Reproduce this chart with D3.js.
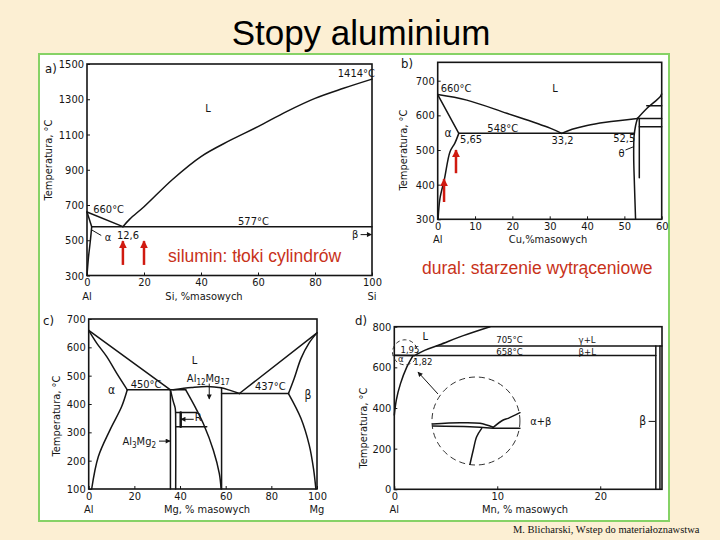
<!DOCTYPE html>
<html>
<head>
<meta charset="utf-8">
<script src="https://cdn.jsdelivr.net/npm/d3@7"></script>
<style>
html, body { margin: 0; padding: 0; background: #fcefd3; }
svg { display: block; }
</style>
</head>
<body>
<script>
// ---------- a) Al-Si ----------
const siTicksX = [0, 20, 40, 60, 80, 100];
const siTicksY = [300, 500, 700, 900, 1100, 1300, 1500];
const siLiqAl = [[0, 660], [12.6, 577]];
const siLiqSi = [[12.6, 577], [15, 620], [20, 690], [30, 845], [40, 975], [50, 1065], [60, 1145], [70, 1230], [80, 1305], [90, 1362], [100, 1414]];
const siEutectic = [[1.65, 577], [100, 577]];
const siSolidus = [[0, 660], [1.65, 577]];
const siSolvus = [[1.65, 577], [1.2, 500], [0.5, 400], [0, 300]];
const siArrows = [[12.6, 360, 495], [20, 360, 495]];

// ---------- b) Al-Cu ----------
const cuTicksX = [0, 10, 20, 30, 40, 50, 60];
const cuTicksY = [300, 400, 500, 600, 700];
const cuLiqAl = [[0, 660], [7.8, 644], [18.5, 606], [30.1, 563], [33.2, 548]];
const cuLiqTheta = [[33.2, 548], [36, 560], [40, 571], [45, 580], [53.5, 591]];
const cuLiqRight = [[53.5, 591], [56, 620], [58, 638], [59.6, 654], [60, 662]];
const cuEutectic = [[5.65, 548], [52.5, 548]];
const cuSolidus = [[0, 660], [5.65, 548]];
const cuSolvus = [[5.65, 548], [4.6, 520], [3.3, 495], [1.8, 416], [0.6, 360], [0.1, 300]];
const cuThetaLeft = [[53.5, 591], [53, 570], [52.6, 540], [52.5, 480], [52.7, 400], [53, 300]];
const cuThetaRight = [[54, 591], [54, 420]];
const cuRightLines = [[[53.5, 591], [60, 591]], [[56, 628], [60, 628]], [[54, 567], [60, 567]]];
const cuArrows = [[4.9, 433, 500], [1.7, 350, 416]];

// ---------- c) Al-Mg ----------
const mgTicksX = [0, 20, 40, 60, 80, 100];
const mgTicksY = [100, 200, 300, 400, 500, 600, 700];
const mgLiqLeft = [[0, 660], [35.8, 450]];
const mgSolidusA = [[0, 660], [3.5, 615], [7.9, 567], [12.3, 508], [16.9, 450]];
const mgSolvusA = [[16.9, 450], [14.4, 390], [9.3, 308], [4.2, 214], [1.3, 100]];
const mgEutecticL = [[16.9, 450], [42.5, 450]];
const mgAl3Mg2L = [[35.8, 450], [35.8, 100]];
const mgAl3Mg2R = [[35.8, 450], [37, 410], [37.9, 385], [38.1, 330], [38.1, 100]];
const mgGammaL = [[42.5, 450], [47, 384], [50.2, 331], [54.6, 237], [57.2, 155], [58, 100]];
const mgGammaR = [[58.2, 456], [58.2, 100]];
const mgDome = [[37, 450], [45, 458], [52, 462], [58, 457], [62, 448], [66, 437]];
const mgEutecticR = [[58.2, 437], [87.5, 437]];
const mgLiqRight = [[66, 437], [100, 651]];
const mgSolidusB = [[87.5, 437], [90, 490], [93, 561], [96.5, 615], [100, 651]];
const mgSolvusB = [[87.5, 437], [93, 349], [96.6, 255], [98.5, 170], [99.5, 100]];
const mgRLines = [[[38.1, 370], [47.3, 370]], [[38.1, 320], [51.7, 320]], [[40.3, 370], [40.3, 320]]];

// ---------- d) Al-Mn ----------
const mnTicksX = [0, 10, 20];
const mnTicksY = [0, 200, 400, 600, 800];
const mnLiqAl = [[0, 660], [1.95, 658]];
const mnLiquidus = [[1.95, 658], [3, 685], [4.4, 711], [6.7, 756], [9.3, 800]];
const mnSolvus = [[1.82, 658], [1.2, 600], [0.6, 520], [0.2, 440], [0, 365]];
const mnLines = [[[4.1, 705], [26, 705]], [[0, 658], [25.4, 658]], [[25.4, 705], [25.4, 0]], [[25.8, 705], [25.8, 0]]];
// magnified view inside the big dashed circle (local units, circle radius = 1)
const zoomLines = [
  [[-0.984, -0.068], [-0.364, -0.039], [0.091, -0.052], [0.393, -0.143]],
  [[-0.984, -0.114], [-0.136, -0.130], [0.393, -0.166]],
  [[0.393, -0.143], [0.62, 0.023], [0.734, 0.061], [1.0, 0.189]],
  [[0.393, -0.166], [1.0, -0.166]],
  [[0.13, -0.166], [0.016, -0.357], [-0.061, -0.659], [-0.136, -0.984]]
];

const FONT = '"DejaVu Sans Condensed", "DejaVu Sans", sans-serif';
const INK = '#151515';
const RED = '#d01a10';

const svg = d3.select('body').append('svg').attr('width', 720).attr('height', 540);
svg.append('rect').attr('width', 720).attr('height', 540).attr('fill', '#fcefd3');

svg.append('text')
  .attr('x', 361).attr('y', 45)
  .attr('text-anchor', 'middle')
  .attr('font-family', '"Liberation Sans", Arial, sans-serif')
  .attr('font-size', 35)
  .text('Stopy aluminium');

svg.append('rect')
  .attr('x', 39).attr('y', 54).attr('width', 630).attr('height', 467)
  .attr('fill', '#fff').attr('stroke', '#86d266').attr('stroke-width', 2);

const defs = svg.append('defs');
defs.append('marker').attr('id', 'redHead')
  .attr('viewBox', '0 0 10 10').attr('refX', 9).attr('refY', 5)
  .attr('markerUnits', 'userSpaceOnUse').attr('markerWidth', 8).attr('markerHeight', 10)
  .attr('orient', 'auto')
  .append('path').attr('d', 'M0,0L10,5L0,10z').attr('fill', RED);
defs.append('marker').attr('id', 'blackHead')
  .attr('viewBox', '0 0 10 10').attr('refX', 9).attr('refY', 5)
  .attr('markerUnits', 'userSpaceOnUse').attr('markerWidth', 6).attr('markerHeight', 5)
  .attr('orient', 'auto')
  .append('path').attr('d', 'M0,0L10,5L0,10z').attr('fill', INK);

function styleAxis(g) {
  g.select('.domain').remove();
  g.attr('font-family', FONT).attr('font-size', 11);
  g.selectAll('line').attr('stroke', INK);
  g.selectAll('text').attr('fill', INK);
}

function panel(o) {
  const x = d3.scaleLinear().domain(o.xd).range(o.xr);
  const y = d3.scaleLinear().domain(o.yd).range(o.yr);
  const g = svg.append('g');
  const top = y(o.yTop);
  g.append('g').attr('transform', `translate(${o.xr[0]},0)`)
    .call(d3.axisLeft(y).tickValues(o.yt).tickFormat(d3.format('d')).tickSize(-3).tickPadding(3))
    .call(styleAxis);
  g.append('g').attr('transform', `translate(0,${o.yr[0]})`)
    .call(d3.axisBottom(x).tickValues(o.xt).tickFormat(d3.format('d')).tickSize(-3).tickPadding(3))
    .call(styleAxis);
  g.append('rect')
    .attr('x', o.xr[0]).attr('y', top)
    .attr('width', o.xr[1] - o.xr[0]).attr('height', o.yr[0] - top)
    .attr('fill', 'none').attr('stroke', INK).attr('stroke-width', 1.6);
  // letter
  g.append('text').attr('x', o.letter[0]).attr('y', o.letter[1])
    .attr('font-family', FONT).attr('font-size', 13).attr('fill', INK).text(o.name);
  // y title
  g.append('text')
    .attr('transform', `translate(${o.ytitle[0]},${o.ytitle[1]}) rotate(-90)`)
    .attr('text-anchor', 'middle').attr('font-family', FONT).attr('font-size', 11)
    .attr('fill', INK).text('Temperatura, °C');
  // x title and element names
  const base = o.yr[0] + 24;
  g.append('text').attr('x', o.xtitle).attr('y', base).attr('text-anchor', 'middle')
    .attr('font-family', FONT).attr('font-size', 11).attr('fill', INK).text(o.xlabel);
  o.ends.forEach(e => {
    g.append('text').attr('x', x(e[0])).attr('y', base).attr('text-anchor', 'middle')
      .attr('font-family', FONT).attr('font-size', 11).attr('fill', INK).text(e[1]);
  });
  return { g, x, y };
}

function curve(p, pts, w) {
  const line = d3.line().x(d => p.x(d[0])).y(d => p.y(d[1]))
    .curve(pts.length > 2 ? d3.curveCatmullRom.alpha(0.5) : d3.curveLinear);
  p.g.append('path').attr('d', line(pts))
    .attr('fill', 'none').attr('stroke', INK).attr('stroke-width', w || 1.5)
    .attr('stroke-linejoin', 'round').attr('stroke-linecap', 'round');
}

function label(p, pt, txt, anchor, size) {
  return p.g.append('text')
    .attr('x', p.x(pt[0])).attr('y', p.y(pt[1]))
    .attr('text-anchor', anchor || 'start')
    .attr('font-family', FONT).attr('font-size', size || 11).attr('fill', INK)
    .text(txt);
}

function leader(p, a, b, head) {
  const l = p.g.append('line')
    .attr('x1', p.x(a[0])).attr('y1', p.y(a[1]))
    .attr('x2', p.x(b[0])).attr('y2', p.y(b[1]))
    .attr('stroke', INK).attr('stroke-width', 1);
  if (head) l.attr('marker-end', 'url(#blackHead)');
}

function redArrows(p, list) {
  list.forEach(a => {
    p.g.append('line')
      .attr('x1', p.x(a[0])).attr('y1', p.y(a[1]))
      .attr('x2', p.x(a[0])).attr('y2', p.y(a[2]))
      .attr('stroke', RED).attr('stroke-width', 2.5)
      .attr('marker-end', 'url(#redHead)');
  });
}

function redText(x, y, txt) {
  svg.append('text').attr('x', x).attr('y', y)
    .attr('font-family', '"Liberation Sans", Arial, sans-serif')
    .attr('font-size', 17.5).attr('fill', '#c8321a').text(txt);
}

// ---------- panel a ----------
const pa = panel({
  name: 'a)', letter: [45, 73],
  xd: [0, 100], xr: [87, 372], yd: [300, 1500], yr: [275.5, 64], yTop: 1500,
  xt: siTicksX, yt: siTicksY, ytitle: [52, 160], xtitle: 204,
  xlabel: 'Si, %masowych', ends: [[0, 'Al'], [100, 'Si']]
});
[siLiqAl, siLiqSi, siEutectic, siSolidus, siSolvus].forEach(c => curve(pa, c));
label(pa, [2.2, 652], '660°C');
label(pa, [10.5, 505], '12,6');
label(pa, [53, 588], '577°C');
label(pa, [88, 1428], '1414°C');
label(pa, [42.5, 1228], 'L', 'middle');
label(pa, [6.2, 493], 'α');
leader(pa, [1.5, 560], [5, 527]);
label(pa, [93, 510], 'β');
leader(pa, [96, 532], [99.8, 532], true);
redArrows(pa, siArrows);
redText(168, 262, 'silumin: tłoki cylindrów');

// ---------- panel b ----------
const pb = panel({
  name: 'b)', letter: [401, 68],
  xd: [0, 60], xr: [437.7, 661.7], yd: [300, 700], yr: [219.3, 80.7], yTop: 753,
  xt: cuTicksX, yt: cuTicksY, ytitle: [407, 150], xtitle: 548,
  xlabel: 'Cu,%masowych', ends: [[0, 'Al']]
});
[cuLiqAl, cuLiqTheta, cuLiqRight, cuEutectic, cuSolidus, cuSolvus, cuThetaLeft, cuThetaRight]
  .forEach(c => curve(pb, c));
cuRightLines.forEach(c => curve(pb, c));
label(pb, [0.8, 666], '660°C');
label(pb, [31.4, 667], 'L', 'middle');
label(pb, [13.3, 553], '548°C');
label(pb, [1.8, 538], 'α', 'start', 12);
label(pb, [6, 519], '5,65');
label(pb, [30.5, 518], '33,2');
label(pb, [47, 522], '52,5');
label(pb, [48.4, 480], 'θ');
leader(pb, [50.3, 500], [52.6, 510]);
redArrows(pb, cuArrows);
redText(422, 274, 'dural: starzenie wytrąceniowe');

// ---------- panel c ----------
const pc = panel({
  name: 'c)', letter: [43, 325],
  xd: [0, 100], xr: [88.7, 317], yd: [100, 700], yr: [489, 319], yTop: 700,
  xt: mgTicksX, yt: mgTicksY, ytitle: [60, 416], xtitle: 207,
  xlabel: 'Mg, % masowych', ends: [[0, 'Al'], [100, 'Mg']]
});
[mgLiqLeft, mgSolidusA, mgSolvusA, mgEutecticL, mgAl3Mg2L, mgAl3Mg2R, mgGammaL, mgGammaR,
  mgDome, mgEutecticR, mgLiqRight, mgSolidusB, mgSolvusB].forEach(c => curve(pc, c));
mgRLines.forEach((c, i) => curve(pc, c, i === 2 ? 2.5 : 1.5));
label(pc, [46.4, 541], 'L', 'middle');
label(pc, [8.5, 435], 'α', 'start', 12);
label(pc, [18.4, 455], '450°C');
label(pc, [72.8, 450], '437°C');
label(pc, [94.5, 418], 'β', 'start', 12);
const t12 = label(pc, [43, 478], 'Al');
t12.append('tspan').attr('font-size', 8).attr('dy', 3).text('12');
t12.append('tspan').attr('dy', -3).text('Mg');
t12.append('tspan').attr('font-size', 8).attr('dy', 3).text('17');
leader(pc, [52.8, 472], [52.8, 418], true);
label(pc, [46.4, 340], 'R');
leader(pc, [46, 346], [40.4, 346], true);
const t3 = label(pc, [14.8, 254], 'Al');
t3.append('tspan').attr('font-size', 8).attr('dy', 3).text('3');
t3.append('tspan').attr('dy', -3).text('Mg');
t3.append('tspan').attr('font-size', 8).attr('dy', 3).text('2');
leader(pc, [30.8, 269], [35.7, 269], true);

// ---------- panel d ----------
const pd = panel({
  name: 'd)', letter: [355, 325],
  xd: [0, 26], xr: [394.3, 662], yd: [0, 800], yr: [489.3, 326.7], yTop: 800,
  xt: mnTicksX, yt: mnTicksY, ytitle: [367, 428], xtitle: 525,
  xlabel: 'Mn, % masowych', ends: [[0, 'Al']]
});
[mnLiqAl, mnLiquidus, mnSolvus].forEach(c => curve(pd, c));
mnLines.forEach(c => curve(pd, c));
label(pd, [3.0, 735], 'L', 'middle');
label(pd, [9.9, 722], '705°C', 'start', 9.5);
label(pd, [9.9, 663], '658°C', 'start', 9.5);
label(pd, [17.9, 722], 'γ+L', 'start', 9.5);
label(pd, [17.9, 663], 'β+L', 'start', 9.5);
label(pd, [0.6, 671], '1,95', 'start', 9.5);
label(pd, [0.35, 624], 'α', 'start', 9.5);
label(pd, [1.85, 612], '1,82', 'start', 9.5);
label(pd, [13.2, 316], 'α+β');
label(pd, [23.8, 316], 'β', 'start', 12);
leader(pd, [24.7, 334], [25.35, 334]);

// small and large dashed circles
pd.g.append('circle').attr('cx', pd.x(1.04)).attr('cy', pd.y(674)).attr('r', 12.5)
  .attr('fill', 'none').attr('stroke', '#333').attr('stroke-width', 1).attr('stroke-dasharray', '4,3');
const cx = pd.x(7.93), cy = pd.y(336), r = 44;
pd.g.append('circle').attr('cx', cx).attr('cy', cy).attr('r', r)
  .attr('fill', 'none').attr('stroke', '#333').attr('stroke-width', 1).attr('stroke-dasharray', '6,4');
leader(pd, [4.24, 469], [2.3, 577], true);

const zx = d3.scaleLinear().domain([-1, 1]).range([cx - r, cx + r]);
const zy = d3.scaleLinear().domain([-1, 1]).range([cy + r, cy - r]);
const zp = { g: pd.g, x: zx, y: zy };
zoomLines.forEach(c => curve(zp, c, 1.5));

// footer
svg.append('text').attr('x', 513).attr('y', 533)
  .attr('font-family', '"Liberation Serif", "Times New Roman", serif')
  .attr('font-size', 10.5).attr('fill', '#111')
  .text('M. Blicharski, Wstep do materiałoznawstwa');
</script>
</body>
</html>
